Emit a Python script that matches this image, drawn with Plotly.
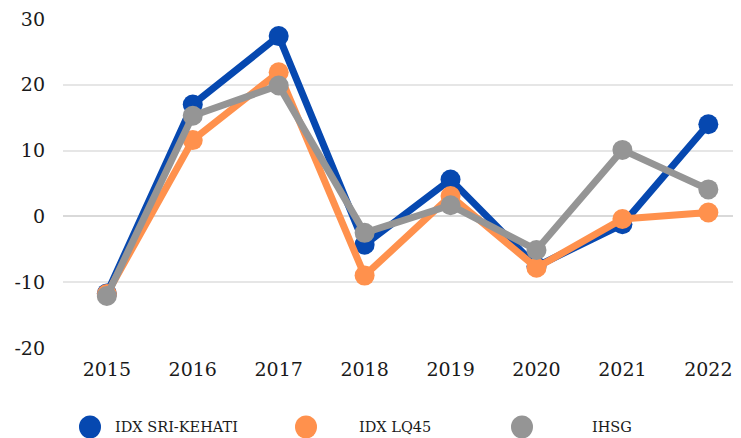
import plotly.graph_objects as go

years = [2015, 2016, 2017, 2018, 2019, 2020, 2021, 2022]
kehati = [-11.7, 17.0, 27.4, -4.3, 5.6, -7.6, -1.2, 14.0]
lq45 = [-11.8, 11.6, 21.9, -9.0, 3.1, -7.8, -0.4, 0.6]
ihsg = [-12.1, 15.3, 19.9, -2.5, 1.7, -5.1, 10.1, 4.1]
series_names = ["IDX SRI-KEHATI", "IDX LQ45", "IHSG"]
colors = ["#0648B0", "#FF914D", "#959595"]
y_ticks = [-20, -10, 0, 10, 20, 30]
y_tick_text = ["-20", "-10", "0", "10", "20", "30"]

SERIF = "DejaVu Serif"

fig = go.Figure()
for name, vals, col in zip(series_names, [kehati, lq45, ihsg], colors):
    fig.add_trace(go.Scatter(
        x=years, y=vals, name=name, mode="lines+markers",
        line=dict(color=col, width=7),
        marker=dict(color=col, size=20),
        showlegend=False,
    ))

# page has an 8px body margin; figure coordinates = reference pixel - 8
OFF = 8
W, H = 741 - OFF, 438 - OFF
L, T = 63 - OFF, 19 - OFF
B = H - (348 - OFF)
R = 0
pw, ph = W - L - R, H - T - B

def px_x(x):
    return (x - OFF - L) / pw

def px_y(y):
    return (H - B - (y - OFF)) / ph

leg_marker_x = [90, 306, 522]
leg_text_x = [115, 359, 592]
leg_y = 427
for mx, tx, name, col in zip(leg_marker_x, leg_text_x, series_names, colors):
    fig.add_shape(type="circle", xref="paper", yref="paper",
                  xsizemode="pixel", ysizemode="pixel",
                  xanchor=px_x(mx), yanchor=px_y(leg_y),
                  x0=-11, x1=11, y0=-11.5, y1=11.5,
                  fillcolor=col, line=dict(width=0))
    fig.add_annotation(x=px_x(tx), y=px_y(leg_y), xref="paper", yref="paper",
                       text=name, showarrow=False, xanchor="left", yanchor="middle",
                       xshift=-2,
                       font=dict(family=SERIF, size=14.5, color="#1a1a1a"))

fig.update_layout(
    width=W, height=H,
    margin=dict(l=L, r=R, t=T, b=B, autoexpand=False),
    paper_bgcolor="white", plot_bgcolor="white",
    font=dict(family=SERIF, size=19, color="#1a1a1a"),
    showlegend=False,
)
fig.update_xaxes(range=[2014.49, 2022.38], tickmode="array", tickvals=years,
                 ticktext=[str(y) for y in years], showgrid=False, zeroline=False,
                 showline=False, ticks="", ticklabelstandoff=8,
                 ticklabeloverflow="allow")
fig.update_yaxes(range=[-20, 30], tickmode="array", tickvals=y_ticks,
                 ticktext=y_tick_text,
                 showgrid=True, gridcolor="#E6E6E6", gridwidth=1.5,
                 zeroline=True, zerolinecolor="#D9D9D9", zerolinewidth=1.5,
                 showline=False, ticks="", ticklabelstandoff=17,
                 ticklabeloverflow="allow")

fig.write_html("out.html")
